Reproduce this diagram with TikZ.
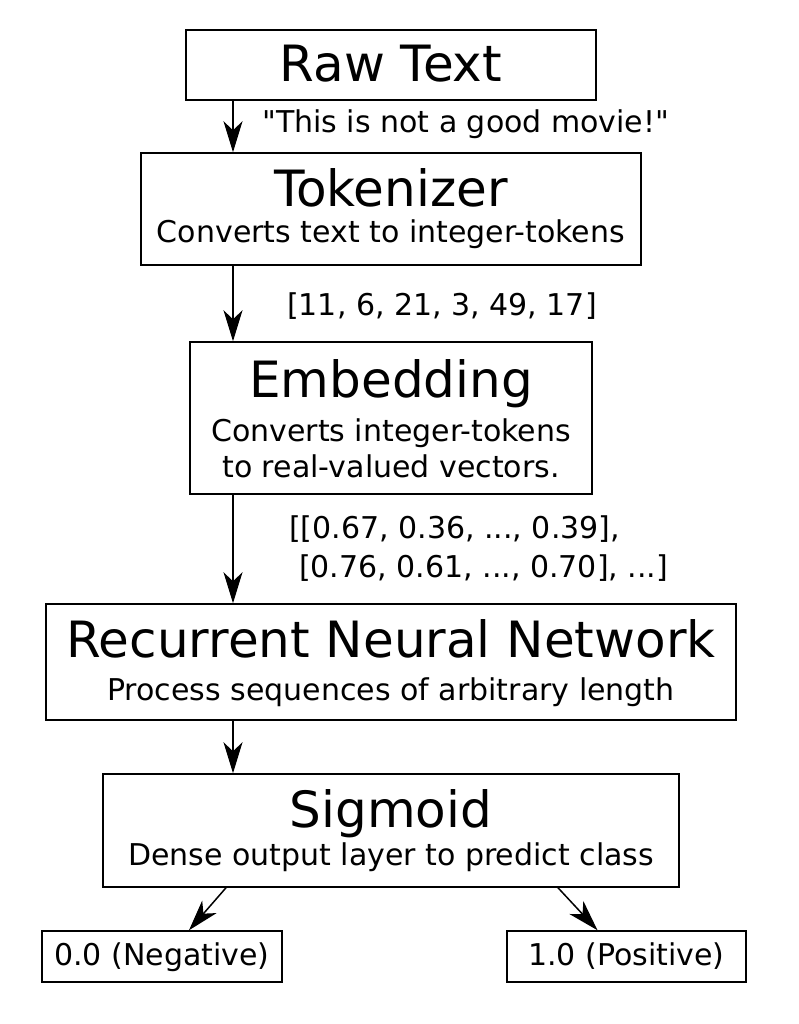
\documentclass[tikz,border=0pt]{standalone}
\usepackage{fontspec}
\setmainfont{DejaVu Sans}
\usetikzlibrary{arrows.meta,calc}
\newcommand{\bigsz}{\fontsize{50}{60}\selectfont}
\newcommand{\smallsz}{\fontsize{30}{38}\selectfont}
\newcommand{\dquote}{\XeTeXglyph\XeTeXcharglyph"22\relax}
\begin{document}
\begin{tikzpicture}[x=1pt,y=-1pt,
  box/.style={draw=black,line width=1.5pt,inner sep=0pt,rectangle},
  big/.style={inner sep=0pt,anchor=base,font=\bigsz},
  small/.style={inner sep=0pt,anchor=base,font=\smallsz},
  lbl/.style={inner sep=0pt,anchor=base west,font=\smallsz},
  arr/.style={line width=1.5pt,-{Stealth[length=31pt,width=19pt,inset=9pt]}}]
\useasboundingbox (0,0) rectangle (798,1024);
% boxes
\node[box,minimum width=410pt,minimum height=70pt] (raw) at (391,65) {};
\node[box,minimum width=500pt,minimum height=112pt] (tok) at (391,209) {};
\node[box,minimum width=402pt,minimum height=152pt] (emb) at (391,418) {};
\node[box,minimum width=690pt,minimum height=116pt] (rnn) at (391,662) {};
\node[box,minimum width=576pt,minimum height=113pt] (sig) at (391,830.5) {};
\node[box,minimum width=240pt,minimum height=51pt] (neg) at (162,956.5) {};
\node[box,minimum width=239pt,minimum height=51pt] (pos) at (626.5,956.5) {};
% texts
\node[big] (rawt) at (391,82) {Raw Text};
\node[big] (tokt) at (391,207) {Tokenizer};
\node[small] (toks) at (391,242) {Converts text to integer-tokens};
\node[big] (embt) at (391,397) {Embedding};
\node[small] (embs1) at (391,441) {Converts integer-tokens};
\node[small] (embs2) at (391,477) {to real-valued vectors.};
\node[big] (rnnt) at (391,657) {Recurrent Neural Network};
\node[small] (rnns) at (391,700) {Process sequences of arbitrary length};
\node[big] (sigt) at (391,827) {Sigmoid};
\node[small] (sigs) at (391,865) {Dense output layer to predict class};
\node[small] (negt) at (162,965) {0.0 (Negative)};
\node[small] (post) at (626.5,965) {1.0 (Positive)};
% edge labels
\node[lbl] (l1) at (262,133) {\dquote This is not a good movie!\dquote};
\node[lbl] (l2) at (287,315) {[11, 6, 21, 3, 49, 17]};
\node[lbl] (l3a) at (289,538) {[[0.67, 0.36, ..., 0.39],};
\node[lbl] (l3b) at (299,577) {[0.76, 0.61, ..., 0.70], ...]};
% connectors
\coordinate (ax) at (233,0);
\draw[arr] (raw.south -| ax) -- (tok.north -| ax);
\draw[arr] (tok.south -| ax) -- (emb.north -| ax);
\draw[arr] (emb.south -| ax) -- (rnn.north -| ax);
\draw[arr] (rnn.south -| ax) -- (sig.north -| ax);
\draw[arr] ($(sig.south)+(-165,0)$) -- ($(neg.north)+(27,0)$);
\draw[arr] ($(sig.south)+(167,0)$) -- ($(pos.north)+(-29,0)$);
\end{tikzpicture}
\end{document}
